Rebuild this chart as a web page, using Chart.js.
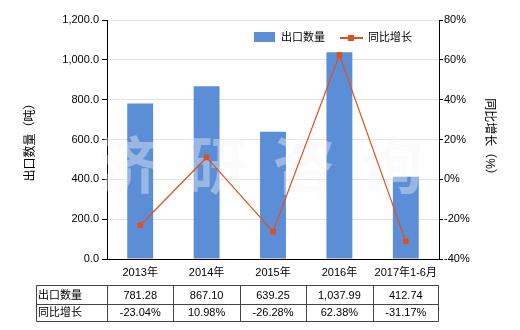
<!DOCTYPE html>
<html>
<head>
<meta charset="utf-8">
<script src="https://cdn.jsdelivr.net/npm/chart.js@4/dist/chart.umd.min.js"></script>
<style>
  html, body { margin: 0; padding: 0; background: #fff; }
  #wrap { width: 520px; height: 330px; position: relative; }
</style>
</head>
<body>
<div id="wrap"><canvas id="chart"></canvas></div>
<script>
// Categories and the two series.
const categories = ["2013年", "2014年", "2015年", "2016年", "2017年1-6月"];
const exportQty = [781.28, 867.10, 639.25, 1037.99, 412.74];
const yoyGrowth = [-23.04, 10.98, -26.28, 62.38, -31.17];

// Text shown in the data table under the axis.
const qtyLabels = ["781.28", "867.10", "639.25", "1,037.99", "412.74"];
const growthLabels = ["-23.04%", "10.98%", "-26.28%", "62.38%", "-31.17%"];

const seriesNames = ["出口数量", "同比增长"];
const barColor = "#5B8ED6";
const lineColor = "#E0501C";
const FONT = "'Liberation Sans', 'Noto Sans CJK SC', sans-serif";

// Faint "济研咨询" watermark, drawn after the bars but under the line.
const watermark = {
  id: "watermark",
  afterDatasetDraw(chart, args) {
    if (args.index !== 0) return;
    const { ctx } = chart;
    ctx.save();
    ctx.font = "bold 62px 'Noto Sans CJK SC', sans-serif";
    ctx.fillStyle = "rgba(246,246,246,0.4)";
    ctx.textAlign = "center";
    ctx.textBaseline = "middle";
    ["济", "研", "咨", "询"].forEach((ch, i) => {
      ctx.fillText(ch, 128 + i * 88, 165);
    });
    ctx.restore();
  },
};

// Legend inside the plot, top right, plus the data table under the x axis.
const legendAndTable = {
  id: "legendAndTable",
  afterDraw(chart) {
    const { ctx, scales } = chart;
    const x = scales.x;
    ctx.save();
    ctx.font = "11px " + FONT;
    ctx.textBaseline = "middle";
    ctx.fillStyle = "#000";

    // legend
    ctx.fillStyle = barColor;
    ctx.fillRect(254, 32, 21, 10);
    ctx.fillStyle = "#000";
    ctx.textAlign = "left";
    ctx.fillText(seriesNames[0], 281, 38);
    ctx.strokeStyle = lineColor;
    ctx.lineWidth = 2;
    ctx.beginPath();
    ctx.moveTo(340, 38);
    ctx.lineTo(363, 38);
    ctx.stroke();
    ctx.fillStyle = lineColor;
    ctx.fillRect(348, 35, 6, 6);
    ctx.fillStyle = "#000";
    ctx.fillText(seriesNames[1], 368, 38);

    // table
    const half = (x.getPixelForValue(1) - x.getPixelForValue(0)) / 2;
    const left = 36.5;
    const right = Math.round(x.getPixelForValue(categories.length - 1) + half) - 0.5;
    const rows = [285.5, 304.5, 321.5];
    ctx.strokeStyle = "#444";
    ctx.lineWidth = 1;
    ctx.beginPath();
    rows.forEach((y) => { ctx.moveTo(left, y); ctx.lineTo(right, y); });
    ctx.moveTo(left, rows[0]); ctx.lineTo(left, rows[2]);
    for (let i = 0; i < categories.length; i++) {
      const bx = Math.round(x.getPixelForValue(i) - half) + 0.5;
      ctx.moveTo(bx, rows[0]); ctx.lineTo(bx, rows[2]);
    }
    ctx.moveTo(right, rows[0]); ctx.lineTo(right, rows[2]);
    ctx.stroke();

    ctx.fillStyle = "#000";
    ctx.textAlign = "left";
    ctx.fillText(seriesNames[0], 38, 295.5);
    ctx.fillText(seriesNames[1], 38, 313);
    ctx.textAlign = "center";
    for (let i = 0; i < categories.length; i++) {
      const cx = x.getPixelForValue(i);
      ctx.fillText(qtyLabels[i], cx, 295.5);
      ctx.fillText(growthLabels[i], cx, 313);
    }
    ctx.restore();
  },
};

const fmtQty = (v) =>
  v.toLocaleString("en-US", { minimumFractionDigits: 1, maximumFractionDigits: 1 });

new Chart(document.getElementById("chart"), {
  data: {
    labels: categories,
    datasets: [
      {
        type: "bar",
        label: seriesNames[0],
        data: exportQty,
        backgroundColor: barColor,
        yAxisID: "y",
        order: 1,
        categoryPercentage: 1,
        barPercentage: 0.39,
      },
      {
        type: "line",
        label: seriesNames[1],
        data: yoyGrowth,
        borderColor: lineColor,
        backgroundColor: lineColor,
        borderWidth: 1.2,
        pointStyle: "rect",
        pointRadius: 4,
        pointBorderWidth: 0,
        tension: 0,
        yAxisID: "y1",
        order: 0,
      },
    ],
  },
  options: {
    responsive: true,
    maintainAspectRatio: false,
    animation: false,
    layout: { padding: { top: 20, left: 0, right: 0, bottom: 0 } },
    plugins: {
      legend: { display: false },
      tooltip: { enabled: false },
    },
    scales: {
      x: {
        grid: { display: false, drawTicks: false },
        border: { display: true, color: "#000", width: 1 },
        ticks: { color: "#000", font: { size: 11, family: FONT }, padding: 7, maxRotation: 0 },
        afterFit: (s) => { s.height = 71; },
      },
      y: {
        position: "left",
        min: 0,
        max: 1200,
        ticks: {
          stepSize: 200,
          color: "#000",
          font: { size: 11, family: FONT },
          padding: 3,
          callback: (v) => fmtQty(v),
        },
        grid: { color: "#e3e3e3", tickColor: "#000", tickLength: 5 },
        border: { display: true, color: "#000", width: 1 },
        title: {
          display: true,
          text: "出口数量（吨）",
          color: "#000",
          font: { size: 12, family: FONT },
          padding: { top: 23, bottom: 0 },
        },
        afterFit: (s) => { s.width = 107; },
      },
      y1: {
        position: "right",
        min: -40,
        max: 80,
        ticks: {
          stepSize: 20,
          color: "#000",
          font: { size: 11, family: FONT },
          padding: 1,
          callback: (v) => v + "%",
        },
        grid: { drawOnChartArea: false, tickColor: "#000", tickLength: 4 },
        border: { display: true, color: "#000", width: 1 },
        title: {
          display: true,
          text: "同比增长（%）",
          color: "#000",
          font: { size: 12, family: FONT },
          padding: { top: 23, bottom: 0 },
        },
        afterFit: (s) => { s.width = 81; },
      },
    },
  },
  plugins: [watermark, legendAndTable],
});
</script>
</body>
</html>
